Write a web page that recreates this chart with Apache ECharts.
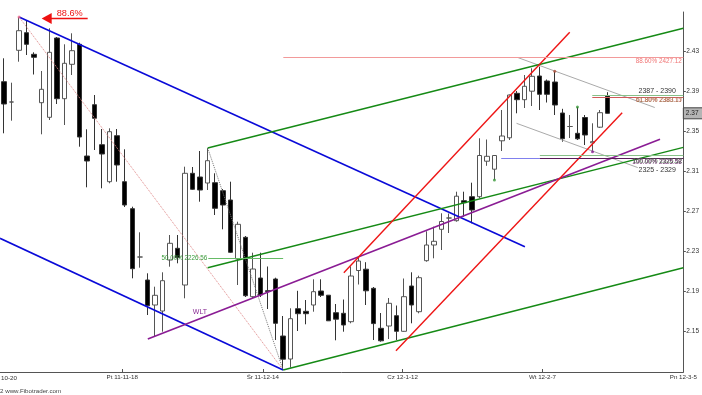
<!DOCTYPE html>
<html><head><meta charset="utf-8">
<script src="https://cdn.jsdelivr.net/npm/echarts@6/dist/echarts.min.js"></script>
<style>html,body{margin:0;padding:0;background:#fff}#c{width:702px;height:395px}</style>
</head><body><div id="c"></div>
<script>
// ---- candle data (bar index = position in arrays) ----
const opens = [2.4000, 2.3797, 2.4314, 2.4490, 2.4274, 2.3790, 2.3644, 2.4437, 2.3830, 2.4174,
 2.4374, 2.3257, 2.3770, 2.3370, 2.3000, 2.3460, 2.3000, 2.2730, 2.2247, 2.2017,
 2.1767, 2.1707, 2.2217, 2.2334, 2.1967, 2.3084, 2.3047, 2.2987, 2.2990, 2.2910,
 2.2817, 2.2227, 2.2444, 2.1850, 2.2037, 2.1910, 2.2027, 2.1457, 2.1227, 2.1730,
 2.1704, 2.1767, 2.1907, 2.1865, 2.1690, 2.1684, 2.1600, 2.2112, 2.2125, 2.1934,
 2.1534, 2.1557, 2.1660, 2.1504, 2.1957, 2.1700, 2.2210, 2.2367, 2.2524, 2.2637,
 2.2610, 2.2810, 2.2850, 2.2850, 2.3205, 2.3125, 2.3409, 2.3439, 2.3884, 2.3820,
 2.3905, 2.4057, 2.4007, 2.3997, 2.3687, 2.3552, 2.3484, 2.3642, 2.3389, 2.3545,
 2.3857];
const closes = [2.3777, 2.3797, 2.4510, 2.4374, 2.4244, 2.3924, 2.4294, 2.3830, 2.4184, 2.4310,
 2.3447, 2.3207, 2.3634, 2.3277, 2.3500, 2.3167, 2.2767, 2.2130, 2.2247, 2.1760,
 2.1864, 2.2010, 2.2384, 2.2240, 2.3084, 2.2924, 2.2917, 2.3210, 2.2734, 2.2767,
 2.2294, 2.2574, 2.1860, 2.2127, 2.1867, 2.1902, 2.1584, 2.1225, 2.1630, 2.1680,
 2.1680, 2.1900, 2.1864, 2.1609, 2.1625, 2.1567, 2.2057, 2.2207, 2.1909, 2.1581,
 2.1409, 2.1784, 2.1504, 2.1850, 2.1767, 2.2040, 2.2367, 2.2404, 2.2602, 2.2637,
 2.2855, 2.2790, 2.2717, 2.3262, 2.3254, 2.3262, 2.3457, 2.3867, 2.3820, 2.3954,
 2.4054, 2.3874, 2.3874, 2.3767, 2.3430, 2.3552, 2.3429, 2.3467, 2.3400, 2.3690,
 2.3684];
const lows = [2.3484, 2.3610, 2.4200, 2.4267, 2.4072, 2.3474, 2.3617, 2.3777, 2.3567, 2.4067,
 2.3350, 2.2944, 2.3317, 2.2934, 2.2984, 2.3000, 2.2747, 2.2034, 2.2140, 2.1667,
 2.1457, 2.1500, 2.2150, 2.2184, 2.1834, 2.2917, 2.2800, 2.2917, 2.2667, 2.2524,
 2.2287, 2.1967, 2.1847, 2.1837, 2.1847, 2.1727, 2.1417, 2.1117, 2.1140, 2.1507,
 2.1574, 2.1700, 2.1847, 2.1607, 2.1414, 2.1500, 2.1584, 2.1972, 2.1767, 2.1417,
 2.1400, 2.1427, 2.1417, 2.1500, 2.1584, 2.1684, 2.2200, 2.2234, 2.2317, 2.2487,
 2.2600, 2.2650, 2.2584, 2.2834, 2.3159, 2.3017, 2.3307, 2.3417, 2.3684, 2.3737,
 2.3757, 2.3717, 2.3792, 2.3667, 2.3400, 2.3437, 2.3417, 2.3367, 2.3300, 2.3537,
 2.3682];
const highs = [2.4234, 2.3990, 2.4647, 2.4607, 2.4294, 2.4107, 2.4534, 2.4447, 2.4374, 2.4484,
 2.4390, 2.3524, 2.3867, 2.3527, 2.3534, 2.3527, 2.3324, 2.2750, 2.2494, 2.2084,
 2.1950, 2.2094, 2.2467, 2.2467, 2.3150, 2.3147, 2.3307, 2.3337, 2.3084, 2.2927,
 2.3000, 2.2600, 2.2457, 2.2290, 2.2290, 2.2152, 2.2040, 2.1657, 2.1734, 2.1909,
 2.1817, 2.2024, 2.2024, 2.1867, 2.1777, 2.1822, 2.2154, 2.2240, 2.2195, 2.1947,
 2.1687, 2.1837, 2.1762, 2.2032, 2.2094, 2.2060, 2.2504, 2.2550, 2.2684, 2.2682,
 2.2900, 2.2900, 2.2990, 2.3434, 2.3422, 2.3267, 2.3717, 2.3872, 2.3907, 2.4067,
 2.4134, 2.4150, 2.4022, 2.4104, 2.3729, 2.3667, 2.3747, 2.3667, 2.3584, 2.3717,
 2.3895];

// ---- axis ticks ----
const xTickValues = [15.68, 34.30, 52.83, 71.37, 90.04];
const xTickLabels = ['Pt 11-11-18', 'Śr 11-12-14', 'Cz 12-1-12', 'Wt 12-2-7', 'Pn 12-3-5'];
const firstDateLabel = '10-20';
const yTickValues = [2.15, 2.19, 2.23, 2.27, 2.31, 2.35, 2.39, 2.43];

// ---- trend lines: [barIndex, price] endpoints ----
const blueUpper   = [[2, 2.4647], [69.04, 2.2349]];
const blueLower   = [[-0.53, 2.2434], [37, 2.1117]];
const greenUpper  = [[27, 2.3337], [90.04, 2.4534]];
const greenMiddle = [[27, 2.2140], [90.04, 2.3343]];
const greenLower  = [[37, 2.1117], [90.04, 2.2140]];
const purpleWLT   = [[19.06, 2.1427], [86.95, 2.3424]];
const redUpper    = [[45.04, 2.2090], [74.98, 2.4494]];
const redLower    = [[51.95, 2.1310], [81.93, 2.3690]];
const grayUpper   = [[68.15, 2.4240], [86.25, 2.3742]];
const grayLower   = [[67.93, 2.3584], [84.00, 2.3141]];
const pinkDotted  = [[2, 2.4647], [37, 2.1117]];
const grayDotted  = [[27, 2.3337], [37, 2.1117]];

// ---- horizontal fibonacci levels ----
const fibValues = [2.4240, 2.2234, 2.3860, 2.3847, 2.3853, 2.3237, 2.3260, 2.3234, 2.3234];
const fibFrom   = [37.02, 27.08, 77.97, 77.97, 77.97, 65.90, 71.02, 71.02, 71.02];
const fibTo     = [90.04, 37.00, 90.04, 90.04, 90.04, 71.02, 90.04, 90.04, 90.04];
const fibTexts  = ['88.60% 2427.12', '50.00% 2226.56', '2387 - 2390', '61.80% 2380.15', '61.80% 2383.17', '', '100.00% 2326.52', '100.00% 2325.58', '2325 - 2329'];

const markerDots = [[2, 2.4647], [73, 2.4104], [76, 2.3747], [65, 2.3017], [78, 2.3300]];
const markerTexts = ['88.6%', 'WLT', '2 www.Fibotrader.com'];

const FONT = "'Liberation Sans', Arial, sans-serif";
const fibStyles = [
  {line: '#f29a9a', w: 1, label: '#f07474', pos: 'insideEndBottom', dist: [1.7, 0.8], fs: 6.3},
  {line: '#66bb66', w: 1, label: '#3a9a3a', pos: 'start', dist: [1, 0], fs: 6.3, pad: [8, 0, 0, 0]},
  {line: '#88c088', w: 1, label: '#333333', pos: 'insideEndTop', dist: [7.5, 1.3], fs: 7},
  {line: '#d05a5a', w: 1, label: '#e07070', pos: 'insideEndBottom', dist: [1.7, 0], fs: 6.3},
  {line: 'rgba(0,0,0,0)', w: 0, label: '#9a7a50', pos: 'insideEndBottom', dist: [1.2, 0.6], fs: 6.3},
  {line: '#8080ee', w: 1, label: '#333', pos: 'insideEndBottom', dist: [0, 0], fs: 6.3},
  {line: '#88c088', w: 1, label: '#4a7a4a', pos: 'insideEndBottom', dist: [1.2, 2.5], fs: 6.3},
  {line: '#5a1a5a', w: 1.2, label: '#6a2a6a', pos: 'insideEndBottom', dist: [1.7, 0.8], fs: 6.3},
  {line: 'rgba(0,0,0,0)', w: 0, label: '#333333', pos: 'insideEndBottom', dist: [7.5, 8.5], fs: 7}
];

const candleData = opens.map((o, i) => [i, o, closes[i], lows[i], highs[i]]);

function seg(data, color, width, type) {
  return {type: 'line', data, symbol: 'none', silent: true, z: 3,
    lineStyle: {color, width, type: type || 'solid'}, clip: true};
}

const fibMarkData = fibValues.map((v, k) => {
  const s = fibStyles[k];
  return [{coord: [fibFrom[k], v],
    lineStyle: {color: s.line, width: s.w, type: 'solid'},
    label: {show: fibTexts[k] !== '', formatter: fibTexts[k], position: s.pos, distance: s.dist,
      color: s.label, fontSize: s.fs, fontFamily: FONT, padding: s.pad || 0}},
    {coord: [fibTo[k], v]}];
});

const chart = echarts.init(document.getElementById('c'), null, {renderer: 'canvas'});
const option = {
  animation: false,
  backgroundColor: '#ffffff',
  grid: {left: 0, right: 16.3, top: 12, bottom: 23},
  xAxis: {type: 'value', min: -0.528, max: 90.04,
    axisLine: {show: true, onZero: false, lineStyle: {color: '#555', width: 1}},
    axisTick: {show: true, inside: true, length: 3, customValues: xTickValues, lineStyle: {color: '#555'}},
    axisLabel: {customValues: xTickValues, margin: 2, fontSize: 6.2, color: '#333', fontFamily: FONT,
      formatter: v => { const k = xTickValues.findIndex(t => Math.abs(t - v) < 1e-6); return k >= 0 ? xTickLabels[k] : ''; }},
    splitLine: {show: false}},
  yAxis: {type: 'value', position: 'right', min: 2.1097, max: 2.4697,
    axisLine: {show: true, onZero: false, lineStyle: {color: '#555', width: 1}},
    axisTick: {show: true, length: 2.5, customValues: yTickValues, lineStyle: {color: '#555'}},
    axisLabel: {customValues: yTickValues, margin: 3, fontSize: 6.5, color: '#333', fontFamily: FONT,
      formatter: v => v.toFixed(2)},
    splitLine: {show: false}},
  series: [
    {type: 'candlestick', data: candleData, encode: {x: 0, y: [1, 2, 3, 4]}, barWidth: 5, z: 2,
      itemStyle: {color: '#ffffff', color0: '#000000', borderColor: '#555555', borderColor0: '#333333', borderWidth: 1},
      markLine: {symbol: ['none', 'none'], silent: true, animation: false, data: fibMarkData}},
    seg(pinkDotted, '#e08888', 1, 'dotted'),
    seg(grayDotted, '#777777', 1, 'dotted'),
    seg(grayUpper, '#aaaaaa', 1),
    seg(grayLower, '#aaaaaa', 1),
    seg(blueUpper, '#0a0ad8', 1.6),
    seg(blueLower, '#0a0ad8', 1.6),
    seg(greenUpper, '#158a15', 1.4),
    seg(greenMiddle, '#158a15', 1.4),
    seg(greenLower, '#158a15', 1.4),
    seg(purpleWLT, '#8a1c94', 1.6),
    seg(redUpper, '#ee1515', 1.4),
    seg(redLower, '#ee1515', 1.4),
    {type: 'scatter', data: markerDots, symbolSize: 3, silent: true, z: 4,
      itemStyle: {color: p => ['#f06a8a', '#b0503a', '#3a9a3a', '#3a9a3a', '#8a1c94'][p.dataIndex]}}
  ]
};
chart.setOption(option);

// annotations anchored to data points
const hi = chart.convertToPixel({xAxisIndex: 0, yAxisIndex: 0}, [2, highs[2]]);
const wl = chart.convertToPixel({xAxisIndex: 0, yAxisIndex: 0}, purpleWLT[0]);
const lc = chart.convertToPixel({xAxisIndex: 0, yAxisIndex: 0}, [90.04, closes[closes.length - 1]]);
const tipX = hi[0] + 22.6, tipY = hi[1] + 1.6;
chart.setOption({graphic: [
  {type: 'polygon', shape: {points: [[tipX, tipY], [tipX + 10, tipY - 5.5], [tipX + 10, tipY + 5.5]]}, style: {fill: '#ee1111'}, z: 10},
  {type: 'line', shape: {x1: tipX + 9, y1: tipY, x2: tipX + 46, y2: tipY}, style: {stroke: '#ee1111', lineWidth: 1.5}, z: 10},
  {type: 'text', x: tipX + 15, y: tipY - 0.8, style: {text: markerTexts[0], fill: '#ee1111', fontSize: 9.2, fontFamily: FONT, verticalAlign: 'bottom', align: 'left'}, z: 10},
  {type: 'text', x: wl[0] + 45, y: wl[1] - 27.3, style: {text: markerTexts[1], fill: '#8a2c94', fontSize: 7, fontFamily: FONT, verticalAlign: 'middle', align: 'left'}, z: 10},
  {type: 'text', x: 0, y: 391, style: {text: markerTexts[2], fill: '#444', fontSize: 6.2, fontFamily: FONT, verticalAlign: 'middle', align: 'left'}, z: 10},
  {type: 'text', x: 1, y: 377.8, style: {text: firstDateLabel, fill: '#333', fontSize: 6.2, fontFamily: FONT, verticalAlign: 'middle', align: 'left'}, z: 10},
  {type: 'rect', shape: {x: lc[0], y: lc[1] - 5.5, width: 20, height: 11}, style: {fill: '#b4b4b4', stroke: '#444', lineWidth: 1}, z: 10},
  {type: 'text', x: lc[0] + 2.5, y: lc[1], style: {text: closes[closes.length - 1].toFixed(2), fill: '#222', fontSize: 6.5, fontFamily: FONT, verticalAlign: 'middle', align: 'left'}, z: 11}
]});
</script>
</body></html>
